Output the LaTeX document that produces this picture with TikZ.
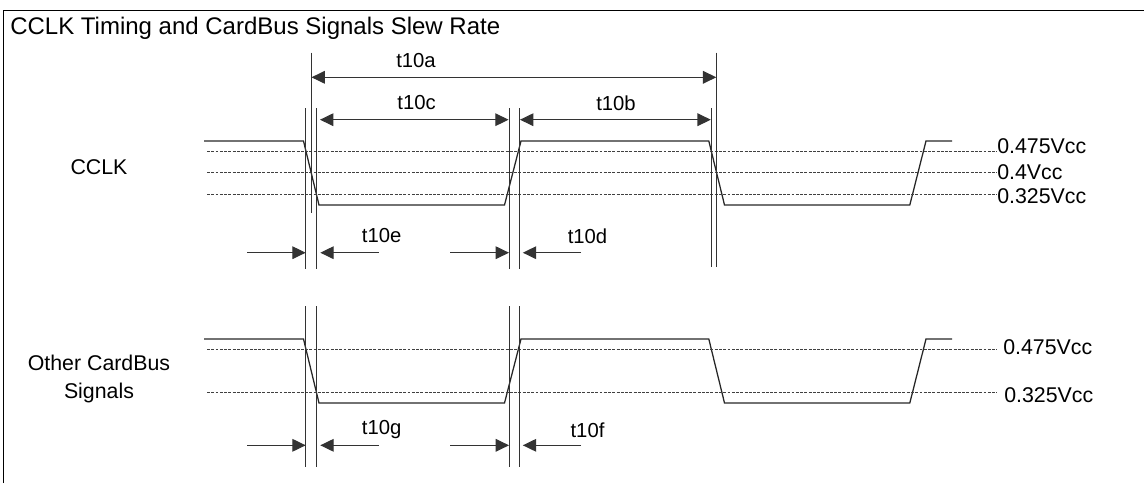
\documentclass[tikz,border=0pt]{standalone}
\usepackage{fontspec}
\setmainfont{Liberation Sans}
\usetikzlibrary{arrows.meta,positioning}
\tikzset{
    %Define standard arrow tip
    >={Triangle[length=10pt,width=9.5pt]},
    %Define style for labels
    tlabel/.style={
           inner sep=0pt,
           font=\fontsize{15.2}{18}\selectfont,
           text centered},
    slabel/.style={
           inner sep=0pt,
           font=\fontsize{16}{19}\selectfont,
           text centered},
    vlabel/.style={
           slabel,
           anchor=west},
    %Define style for lines
    frame/.style={draw=black, line width=1.4pt},
    wave/.style={draw=black!85, line width=.95pt},
    level/.style={draw=black!75, line width=.45pt, dash pattern=on 2.2pt off 1pt},
    guide/.style={draw=black!80, line width=.75pt},
    % Define arrow style
    pil/.style={<->, draw=black!80, line width=.8pt},
    pilin/.style={->, draw=black!80, line width=.8pt}
}
\begin{document}
\begin{tikzpicture}[x=.75pt,y=-.75pt]
\useasboundingbox (0,0) rectangle (1144,483);
\coordinate (fl) at (3.5,483);
\coordinate (ft) at (3.5,10.5);
\coordinate (fr) at (1144,10.5);
\draw[frame] (fl) -- (ft) -- (fr);
\node[slabel, anchor=west, font=\fontsize{18}{22}\selectfont](title) at (10,28){CCLK Timing and CardBus Signals Slew Rate};
\node[slabel](cclk) at (99,167){CCLK};
\node[slabel, align=center](other) at (99,379){Other CardBus\\[1.5pt]Signals};
% waveforms
\foreach \name/\yhi/\ylo in {a/141/205,b/339/403}{
  \draw[wave] (204,\yhi) -- (303.5,\yhi) -- (319,\ylo) -- (504.5,\ylo) -- (521,\yhi)
     -- (708.8,\yhi) -- (724.5,\ylo) -- (909.8,\ylo) -- (926,\yhi) -- (952,\yhi);
}
% levels
\foreach \y in {151.3,172.7,194.3,349.3,392.3}{
  \draw[level] (207,\y) -- (997,\y);
}
% guides, top
\foreach \x in {305.7,316.7,509,519}{
  \draw[guide] (\x,108) -- (\x,269);
  \draw[guide] (\x,306) -- (\x,467);
}
\coordinate (a1) at (311,52.7);
\coordinate (a2) at (311,213);
\coordinate (b1) at (716.8,52.7);
\coordinate (b2) at (716.8,267);
\coordinate (c1) at (711.4,108);
\coordinate (c2) at (711.4,267);
\draw[guide] (a1) -- (a2);
\draw[guide] (b1) -- (b2);
\draw[guide] (c1) -- (c2);
% measures
\coordinate (t10al) at (311.5,77.3);
\coordinate (t10ar) at (716.3,77.3);
\coordinate (t10cl) at (320,119.7);
\coordinate (t10cr) at (508.6,119.7);
\coordinate (t10bl) at (520,119.7);
\coordinate (t10br) at (710.8,119.7);
\draw[pil] (t10al) -- (t10ar);
\draw[pil] (t10cl) -- (t10cr);
\draw[pil] (t10bl) -- (t10br);
\node[tlabel](la) at (416,61){t10a};
\node[tlabel](lc) at (416.6,103){t10c};
\node[tlabel](lb) at (616,103){t10b};
\foreach \y/\ltxt/\rtxt/\ly in {252.7/t10e/t10d/236,445.3/t10g/t10f/430}{
  \coordinate (p1) at (247,\y);
  \coordinate (p2) at (305.7,\y);
  \coordinate (p3) at (378.7,\y);
  \coordinate (p4) at (320.3,\y);
  \coordinate (p5) at (450,\y);
  \coordinate (p6) at (509,\y);
  \coordinate (p7) at (581,\y);
  \coordinate (p8) at (522.8,\y);
  \draw[pilin] (p1) -- (p2);
  \draw[pilin] (p3) -- (p4);
  \draw[pilin] (p5) -- (p6);
  \draw[pilin] (p7) -- (p8);
  \node[tlabel](ll) at (381.6,\ly){\ltxt};
  \node[tlabel](lr) at (587.5,\ly){\rtxt};
}
\node[vlabel](v1) at (997,145.7){0.475Vcc};
\node[vlabel](v2) at (997,172.3){0.4Vcc};
\node[vlabel](v3) at (997,195.7){0.325Vcc};
\node[vlabel](v4) at (1003,346.7){0.475Vcc};
\node[vlabel](v5) at (1004,395){0.325Vcc};
\end{tikzpicture}
\end{document}
